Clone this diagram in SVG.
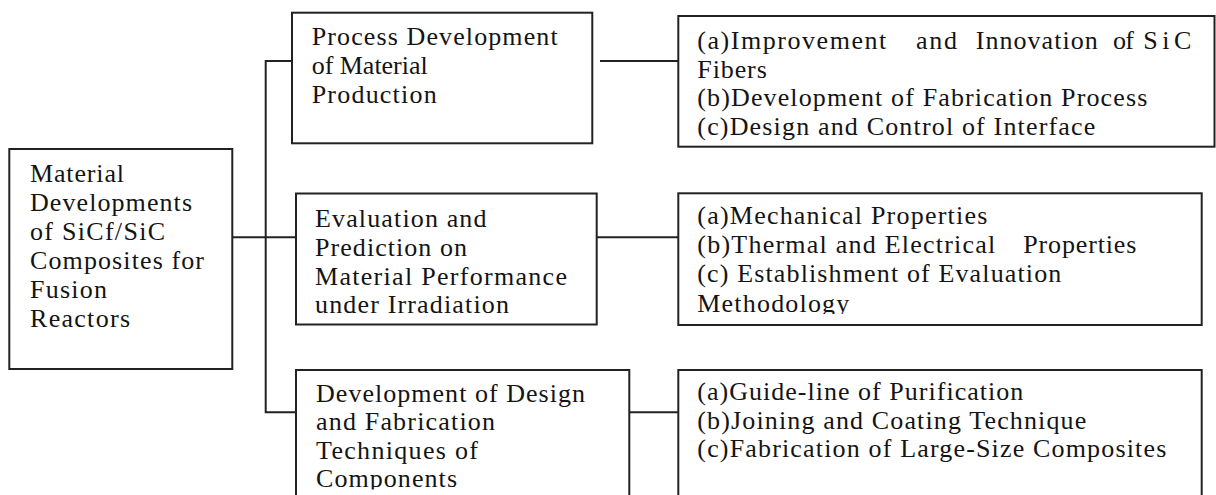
<svg xmlns="http://www.w3.org/2000/svg" width="1216" height="495" viewBox="0 0 1216 495">
<style>
  .box { fill: #ffffff; stroke: #222222; stroke-width: 2; }
  .conn { fill: none; stroke: #222222; stroke-width: 2; }
  .t { font-family: "Liberation Serif", "Times New Roman", serif; font-size: 26px; fill: #141414; }
</style>
<defs>
  <clipPath id="clipMeth"><rect x="680" y="195" width="520" height="119"/></clipPath>
  <clipPath id="clipComp"><rect x="298" y="372" width="330" height="117.5"/></clipPath>
</defs>
<rect width="1216" height="495" fill="#ffffff"/>

<g id="connectors">
  <polyline class="conn" points="292,61 265.7,61 265.7,412.3 296,412.3"/>
  <line class="conn" x1="232.3" y1="237.3" x2="296" y2="237.3"/>
  <line class="conn" x1="600" y1="61" x2="678.3" y2="61"/>
  <line class="conn" x1="596.7" y1="237.3" x2="678.3" y2="237.3"/>
  <line class="conn" x1="629.3" y1="412.3" x2="678.3" y2="412.3"/>
</g>

<g id="root">
  <rect class="box" x="9.3" y="149" width="223" height="220"/>
  <text class="t" x="30" y="181.7" textLength="94" lengthAdjust="spacing">Material</text>
  <text class="t" x="30" y="210.7" textLength="162" lengthAdjust="spacing">Developments</text>
  <text class="t" x="30" y="239.7" textLength="135" lengthAdjust="spacing">of SiCf/SiC</text>
  <text class="t" x="30" y="268.7" textLength="174" lengthAdjust="spacing">Composites for</text>
  <text class="t" x="30" y="297.7" textLength="77" lengthAdjust="spacing">Fusion</text>
  <text class="t" x="30" y="326.7" textLength="100" lengthAdjust="spacing">Reactors</text>
</g>

<g id="process">
  <rect class="box" x="292" y="12.7" width="300.3" height="130.6"/>
  <text class="t" x="311.7" y="45" textLength="246" lengthAdjust="spacing">Process Development</text>
  <text class="t" x="311.7" y="74" textLength="116" lengthAdjust="spacing">of Material</text>
  <text class="t" x="311.7" y="103" textLength="125" lengthAdjust="spacing">Production</text>
</g>

<g id="evaluation">
  <rect class="box" x="296" y="193.5" width="300.7" height="131"/>
  <text class="t" x="315" y="227" textLength="171.5" lengthAdjust="spacing">Evaluation and</text>
  <text class="t" x="315" y="256" textLength="152" lengthAdjust="spacing">Prediction on</text>
  <text class="t" x="315" y="284.5" textLength="252" lengthAdjust="spacing">Material Performance</text>
  <text class="t" x="315" y="313" textLength="194" lengthAdjust="spacing">under Irradiation</text>
</g>

<g id="design">
  <rect class="box" x="296" y="370" width="333.3" height="140"/>
  <g clip-path="url(#clipComp)">
    <text class="t" x="316" y="401.5" textLength="269" lengthAdjust="spacing">Development of Design</text>
    <text class="t" x="316" y="430" textLength="179" lengthAdjust="spacing">and Fabrication</text>
    <text class="t" x="316" y="458.5" textLength="162" lengthAdjust="spacing">Techniques of</text>
    <text class="t" x="316" y="487" textLength="141" lengthAdjust="spacing">Components</text>
  </g>
</g>

<g id="production-items">
  <rect class="box" x="678.3" y="16" width="536.2" height="130.7"/>
  <text class="t" y="49">
    <tspan x="697.3" textLength="189" lengthAdjust="spacing">(a)Improvement</tspan>
    <tspan x="916" textLength="41" lengthAdjust="spacing">and</tspan>
    <tspan x="975.7" textLength="122" lengthAdjust="spacing">Innovation</tspan>
    <tspan x="1113" textLength="21" lengthAdjust="spacing">of</tspan>
    <tspan x="1143.3" textLength="48" lengthAdjust="spacing">SiC</tspan>
  </text>
  <text class="t" x="697.3" y="77.5" textLength="69.5" lengthAdjust="spacing">Fibers</text>
  <text class="t" x="697.3" y="106" textLength="450" lengthAdjust="spacing">(b)Development of Fabrication Process</text>
  <text class="t" x="697.3" y="134.5" textLength="398" lengthAdjust="spacing">(c)Design and Control of Interface</text>
</g>

<g id="performance-items">
  <rect class="box" x="678.3" y="193.3" width="523.4" height="131.7"/>
  <text class="t" x="697.3" y="224" textLength="290" lengthAdjust="spacing">(a)Mechanical Properties</text>
  <text class="t" y="253">
    <tspan x="697.3" textLength="298" lengthAdjust="spacing">(b)Thermal and Electrical</tspan>
    <tspan x="1023.3" textLength="113" lengthAdjust="spacing">Properties</tspan>
  </text>
  <text class="t" x="697.3" y="282" textLength="364" lengthAdjust="spacing">(c) Establishment of Evaluation</text>
  <g clip-path="url(#clipMeth)">
    <text class="t" x="697.3" y="311.5" textLength="152" lengthAdjust="spacing">Methodology</text>
  </g>
</g>

<g id="component-items">
  <rect class="box" x="678.3" y="370" width="523.4" height="140"/>
  <text class="t" x="697.3" y="400" textLength="326" lengthAdjust="spacing">(a)Guide-line of Purification</text>
  <text class="t" x="697.3" y="428.5" textLength="389" lengthAdjust="spacing">(b)Joining and Coating Technique</text>
  <text class="t" x="697.3" y="457" textLength="469" lengthAdjust="spacing">(c)Fabrication of Large-Size Composites</text>
</g>
</svg>
